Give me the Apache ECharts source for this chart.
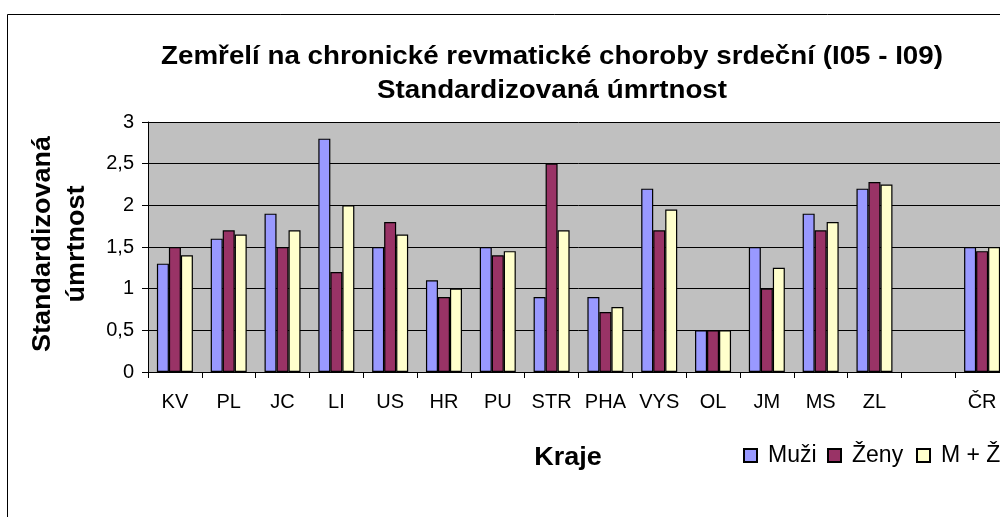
<!DOCTYPE html>
<html>
<head>
<meta charset="utf-8">
<script src="https://cdn.jsdelivr.net/npm/echarts@6/dist/echarts.min.js"></script>
<style>
  html, body { margin: 0; padding: 0; overflow: hidden; background: #fff; }
</style>
</head>
<body>
<div id="chart" style="width:1100px; height:517px;"></div>
<script>
// kraje (prázdná kategorie před ČR)
const kraje = ['KV', 'PL', 'JC', 'LI', 'US', 'HR', 'PU', 'STR', 'PHA', 'VYS', 'OL', 'JM', 'MS', 'ZL', '', 'ČR'];
const muzi  = [1.3, 1.6, 1.9, 2.8, 1.5, 1.1, 1.5, 0.9, 0.9, 2.2, 0.5, 1.5, 1.9, 2.2, null, 1.5];
const zeny  = [1.5, 1.7, 1.5, 1.2, 1.8, 0.9, 1.4, 2.5, 0.72, 1.7, 0.5, 1.0, 1.7, 2.28, null, 1.45];
const mz    = [1.4, 1.65, 1.7, 2.0, 1.65, 1.0, 1.45, 1.7, 0.78, 1.95, 0.5, 1.25, 1.8, 2.25, null, 1.5];
const yTicks = ['0', '0,5', '1', '1,5', '2', '2,5', '3'];
const serie = ['Muži', 'Ženy', 'M + Ž'];

const font = 'Liberation Sans, Arial, sans-serif';

const myChart = echarts.init(document.getElementById('chart'));

const barStyle = (color) => ({
  color: color,
  borderColor: '#000',
  borderWidth: 1.2
});

// jedna legenda na položku, aby sedělo rozmístění
const legendLeft = [743, 827, 916];
const legends = serie.map((name, i) => ({
  left: legendLeft[i],
  top: 444,
  padding: 0,
  itemWidth: 13,
  itemHeight: 13,
  icon: 'rect',
  textStyle: { fontFamily: font, fontSize: 23, color: '#000', padding: [0, 0, 0, 6] },
  data: [name]
}));

const option = {
  animation: false,
  backgroundColor: '#fff',
  legend: legends,
  grid: {
    left: 148,
    right: 91,
    top: 122,
    bottom: 145,
    show: true,
    backgroundColor: '#C0C0C0',
    borderWidth: 0
  },
  xAxis: {
    type: 'category',
    data: kraje,
    axisLine: { lineStyle: { color: '#000', width: 1 } },
    axisTick: { show: true, length: 6, lineStyle: { color: '#000' } },
    axisLabel: { fontFamily: font, fontSize: 20, color: '#000', margin: 20, interval: 0 }
  },
  yAxis: {
    type: 'value',
    min: 0,
    max: 3,
    interval: 0.5,
    axisLine: { show: true, lineStyle: { color: '#000', width: 1 } },
    axisTick: { show: true, length: 6, lineStyle: { color: '#000' } },
    splitLine: { show: true, lineStyle: { color: '#000', width: 1 } },
    axisLabel: {
      fontFamily: font,
      fontSize: 20,
      color: '#000',
      margin: 14,
      formatter: (v) => yTicks[Math.round(v * 2)]
    }
  },
  graphic: [
    {
      type: 'rect',
      shape: { x: 7.5, y: 14.5, width: 1300, height: 700 },
      style: { fill: 'none', stroke: '#000', lineWidth: 1 },
      silent: true
    },
    {
      // nadpis, mírně roztažený do šířky jako v originále
      type: 'text',
      x: 552,
      y: 74,
      scaleX: 1.11,
      style: {
        text: 'Zemřelí na chronické revmatické choroby srdeční (I05 - I09)\nStandardizovaná úmrtnost',
        font: 'bold 25px ' + font,
        fill: '#000',
        align: 'center',
        verticalAlign: 'middle',
        lineHeight: 34
      }
    },
    {
      type: 'text',
      x: 60,
      y: 244,
      rotation: Math.PI / 2,
      scaleX: 1.08,
      style: {
        text: 'Standardizovaná\númrtnost',
        font: 'bold 25px ' + font,
        fill: '#000',
        align: 'center',
        verticalAlign: 'middle',
        lineHeight: 34
      }
    },
    {
      type: 'text',
      x: 568,
      y: 458,
      scaleX: 1.08,
      style: {
        text: 'Kraje',
        font: 'bold 25px ' + font,
        fill: '#000',
        align: 'center',
        verticalAlign: 'middle'
      }
    }
  ],
  series: [
    { name: 'Muži', type: 'bar', data: muzi, barWidth: 12, barGap: '0%', itemStyle: barStyle('#9999FF') },
    { name: 'Ženy', type: 'bar', data: zeny, barWidth: 12, barGap: '0%', itemStyle: barStyle('#993366') },
    { name: 'M + Ž', type: 'bar', data: mz, barWidth: 12, barGap: '0%', itemStyle: barStyle('#FFFFCC') }
  ]
};

myChart.setOption(option);
</script>
</body>
</html>
